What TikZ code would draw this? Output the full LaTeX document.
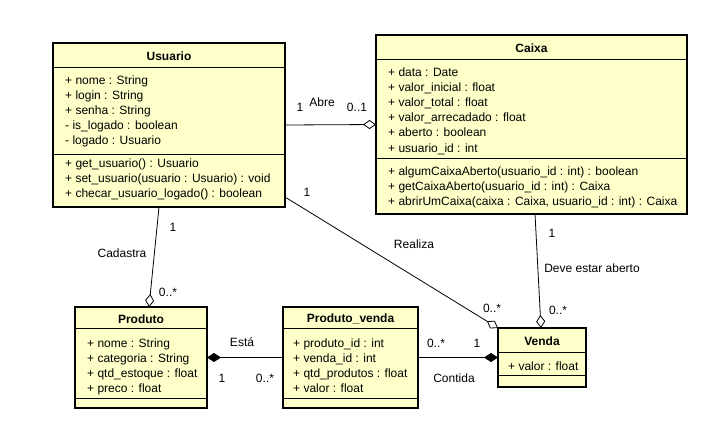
\documentclass[tikz,border=0pt]{standalone}
\usepackage{fontspec}
\setmainfont{Liberation Sans}
\usetikzlibrary{arrows.meta}
\definecolor{classfill}{RGB}{255,255,202}
\tikzset{
  classbox/.style={draw, line width=2.2pt, fill=classfill, inner sep=0pt, outer sep=0pt, anchor=north west},
  divider/.style={line width=1pt},
  txt/.style={font=\fontsize{12}{14}\selectfont, inner sep=0pt, anchor=base west},
  ctitle/.style={font=\fontsize{12}{14}\selectfont\bfseries, inner sep=0pt},
  lbl/.style={font=\fontsize{12}{14}\selectfont, inner sep=0pt},
  assoc/.style={line width=0.8pt},
  agg/.style={assoc, -{Diamond[fill=white, length=13pt, width=9pt, line width=0.8pt]}},
  comp/.style={assoc, -{Diamond[length=14pt, width=9pt]}}
}
\begin{document}
\begin{tikzpicture}[x=1pt, y=-1pt]
\useasboundingbox[fill=white] (0,0) rectangle (727,437);

% ---------- Usuario ----------
\node[classbox, minimum width=232pt, minimum height=164pt] (usuario) at (53,43) {};
\draw[divider] ([yshift=-24pt]usuario.north west) -- ([yshift=-24pt]usuario.north east);
\draw[divider] ([yshift=-111pt]usuario.north west) -- ([yshift=-111pt]usuario.north east);
\node[ctitle] (usuarioT) at (169,56) {Usuario};
\foreach \t [count=\i] in {{+ nome : String},{+ login : String},{+ senha : String},{- is\_logado : boolean},{- logado : Usuario}}
  \node[txt] (ua\i) at (65,{84+15.2*(\i-1)}) {\t};
\foreach \t [count=\i] in {{+ get\_usuario() : Usuario},{+ set\_usuario(usuario : Usuario) : void},{+ checar\_usuario\_logado() : boolean}}
  \node[txt] (um\i) at (65,{167+15.2*(\i-1)}) {\t};

% ---------- Caixa ----------
\node[classbox, minimum width=311pt, minimum height=179pt] (caixa) at (376,35) {};
\draw[divider] ([yshift=-24pt]caixa.north west) -- ([yshift=-24pt]caixa.north east);
\draw[divider] ([yshift=-123pt]caixa.north west) -- ([yshift=-123pt]caixa.north east);
\node[ctitle] (caixaT) at (531.5,48) {Caixa};
\foreach \t [count=\i] in {{+ data : Date},{+ valor\_inicial : float},{+ valor\_total : float},{+ valor\_arrecadado : float},{+ aberto : boolean},{+ usuario\_id : int}}
  \node[txt] (ca\i) at (388,{76+15.2*(\i-1)}) {\t};
\foreach \t [count=\i] in {{+ algumCaixaAberto(usuario\_id : int) : boolean},{+ getCaixaAberto(usuario\_id : int) : Caixa},{+ abrirUmCaixa(caixa : Caixa, usuario\_id : int) : Caixa}}
  \node[txt] (cm\i) at (388,{175+15.2*(\i-1)}) {\t};

% ---------- Produto ----------
\node[classbox, minimum width=132pt, minimum height=101pt] (produto) at (75,307) {};
\draw[divider] ([yshift=-21pt]produto.north west) -- ([yshift=-21pt]produto.north east);
\draw[divider] ([yshift=-91pt]produto.north west) -- ([yshift=-91pt]produto.north east);
\node[ctitle] (produtoT) at (141,319) {Produto};
\foreach \t [count=\i] in {{+ nome : String},{+ categoria : String},{+ qtd\_estoque : float},{+ preco : float}}
  \node[txt] (pa\i) at (87,{347+15.2*(\i-1)}) {\t};

% ---------- Produto_venda ----------
\node[classbox, minimum width=135pt, minimum height=101pt] (pv) at (283,307) {};
\draw[divider] ([yshift=-21pt]pv.north west) -- ([yshift=-21pt]pv.north east);
\draw[divider] ([yshift=-91pt]pv.north west) -- ([yshift=-91pt]pv.north east);
\node[ctitle] (pvT) at (350.5,319) {Produto\_venda};
\foreach \t [count=\i] in {{+ produto\_id : int},{+ venda\_id : int},{+ qtd\_produtos : float},{+ valor : float}}
  \node[txt] (pva\i) at (293,{347+15.2*(\i-1)}) {\t};

% ---------- Venda ----------
\node[classbox, minimum width=88pt, minimum height=59pt] (venda) at (498,328) {};
\draw[divider] ([yshift=-24pt]venda.north west) -- ([yshift=-24pt]venda.north east);
\draw[divider] ([yshift=-47pt]venda.north west) -- ([yshift=-47pt]venda.north east);
\node[ctitle] (vendaT) at (542,341) {Venda};
\node[txt] (va1) at (508,370) {+ valor : float};

% ---------- Associations ----------
\draw[agg] (usuario.east) -- (caixa.west);
\node[lbl] (l1) at (300,107) {1};
\node[lbl] (l2) at (322,102) {Abre};
\node[lbl] (l3) at (357,107) {0..1};

\draw[agg] ([xshift=-10pt]usuario.south) -- ([xshift=8pt]produto.north);
\node[lbl] (l4) at (173,227) {1};
\node[lbl] (l5) at (122,253) {Cadastra};
\node[lbl] (l6) at (168,292) {0..*};

\draw[agg] ([yshift=10pt]usuario.south east) -- (venda.north west);
\node[lbl] (l7) at (307,192) {1};
\node[lbl] (l8) at (414,244) {Realiza};
\node[lbl] (l9) at (492,308) {0..*};

\draw[agg] ([xshift=3.5pt]caixa.south) -- ([xshift=-1pt]venda.north);
\node[lbl] (l10) at (552,233) {1};
\node[lbl] (l11) at (592,268) {Deve estar aberto};
\node[lbl] (l12) at (558,310) {0..*};

\draw[comp] (pv.west) -- (produto.east);
\node[lbl] (l13) at (242,342) {Está};
\node[lbl] (l14) at (222,378) {1};
\node[lbl] (l15) at (265,378) {0..*};

\draw[comp] (pv.east) -- (venda.west);
\node[lbl] (l16) at (436,343) {0..*};
\node[lbl] (l17) at (477,343) {1};
\node[lbl] (l18) at (454,378) {Contida};
\end{tikzpicture}
\end{document}
